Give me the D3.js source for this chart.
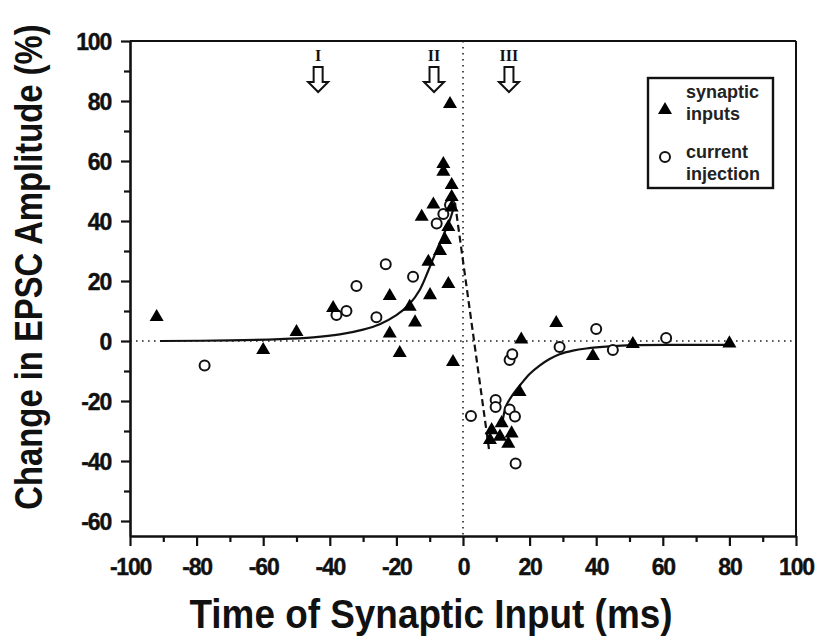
<!DOCTYPE html>
<html>
<head>
<meta charset="utf-8">
<script src="https://cdn.jsdelivr.net/npm/d3@7"></script>
<style>
  body { margin: 0; background: #fff; }
  svg { display: block; }
</style>
</head>
<body>
<div id="graph"></div>
<script>
// data
const xTicks = [-100, -80, -60, -40, -20, 0, 20, 40, 60, 80, 100];
const yTicks = [-60, -40, -20, 0, 20, 40, 60, 80, 100];

const synaptic = [
  [-92, 8], [-60, -3], [-50, 3], [-39, 11], [-22, 15], [-22, 2.5], [-19, -4],
  [-16, 11.4], [-14.4, 6.2], [-12.4, 41.4], [-10.4, 26.4], [-9.9, 15.3],
  [-8.9, 45.5], [-6.9, 30], [-5.4, 33.7], [-5.9, 59], [-5.9, 56.4], [-4.4, 19],
  [-4.4, 38], [-3.4, 52], [-3.4, 48], [-3.4, 44.5], [-3.9, 79], [-3, -7],
  [17.5, 0.5], [28, 6], [17, -17], [39, -5], [51, -1], [80, -0.8],
  [8.6, -29.7], [8.1, -33], [11.1, -31.9], [14.6, -30.8], [13.6, -34.2], [11.6, -27.4]
];

const injection = [
  [-77.6, -8.2], [-38, 8.7], [-35, 10], [-32, 18.3], [-26, 7.9], [-23.2, 25.6],
  [-15, 21.4], [-7.9, 39.2], [-5.9, 42.3], [-3.9, 45.3], [2.4, -25], [9.8, -19.7],
  [9.8, -22], [14, -6.3], [14.8, -4.4], [14, -22.8], [15.6, -25.2], [15.8, -40.8],
  [29, -2], [40, 4], [45, -3], [61, 1]
];

const fitLeft = [
  [-91, 0], [-70, 0.2], [-55, 0.6], [-45, 1.2], [-37, 2.2], [-30, 3.8], [-25, 5.6],
  [-20, 8.6], [-16, 12.4], [-13, 17], [-10.4, 23.5], [-7.9, 30.3], [-5.9, 35.3],
  [-3.9, 40.5], [-2.4, 46]
];
const fitJump = [[-2.4, 46], [7.8, -36]];
const fitRight = [
  [12, -26], [13, -21.5], [15, -17.8], [17.3, -14.5], [20, -11], [23, -8.2], [26, -6],
  [29, -4.4], [33, -3.2], [37, -2.5], [44, -1.8], [51, -1.4], [65, -1.3], [81, -1.3]
];

const arrowLabels = ["I", "II", "III"];
const arrowTimes = [-43.5, -8.7, 13.8];

const W = 825, H = 637;
const svg = d3.select("#graph").append("svg")
  .attr("width", W).attr("height", H)
  .style("font-family", "'Liberation Sans', Arial, sans-serif");

const x = d3.scaleLinear().domain([-100, 100]).range([130, 796]);
const y = d3.scaleLinear().domain([-65, 100]).range([536, 41]);

// dotted zero lines
svg.append("line")
  .attr("x1", x(-100)).attr("x2", x(100)).attr("y1", y(0)).attr("y2", y(0))
  .attr("stroke", "#222").attr("stroke-width", 1.6).attr("stroke-dasharray", "1.6,4.4");
svg.append("line")
  .attr("x1", x(0)).attr("x2", x(0)).attr("y1", y(100)).attr("y2", y(-65))
  .attr("stroke", "#222").attr("stroke-width", 1.6).attr("stroke-dasharray", "1.6,4.4");

// frame top / right
svg.append("line").attr("x1", x(-100)).attr("x2", x(100)).attr("y1", y(100)).attr("y2", y(100))
  .attr("stroke", "#111").attr("stroke-width", 2);
svg.append("line").attr("x1", x(100)).attr("x2", x(100)).attr("y1", y(100)).attr("y2", y(-65))
  .attr("stroke", "#111").attr("stroke-width", 2);

// minor ticks
const xMinor = d3.range(-90, 100, 20);
const yMinor = d3.range(-50, 100, 20);

const xAxis = svg.append("g")
  .attr("transform", "translate(0," + y(-65) + ")")
  .call(d3.axisBottom(x).tickValues(xTicks).tickSize(10).tickPadding(13)
    .tickSizeOuter(0).tickFormat(d => String(d)));
svg.append("g")
  .attr("transform", "translate(0," + y(-65) + ")")
  .call(d3.axisBottom(x).tickValues(xMinor).tickSize(6).tickFormat("").tickSizeOuter(0))
  .select(".domain").remove();

const yAxis = svg.append("g")
  .attr("transform", "translate(" + x(-100) + ",0)")
  .call(d3.axisLeft(y).tickValues(yTicks).tickSize(9).tickPadding(10)
    .tickSizeOuter(0).tickFormat(d => String(d)));
svg.append("g")
  .attr("transform", "translate(" + x(-100) + ",0)")
  .call(d3.axisLeft(y).tickValues(yMinor).tickSize(6).tickFormat("").tickSizeOuter(0))
  .select(".domain").remove();

svg.selectAll(".domain").attr("stroke", "#111").attr("stroke-width", 2.6);
svg.selectAll(".tick line").attr("stroke", "#111").attr("stroke-width", 2.2);
svg.selectAll(".tick text")
  .attr("fill", "#111")
  .attr("stroke", "#111").attr("stroke-width", 0.4)
  .style("font-size", "23px")
  .style("font-weight", "bold")
  .style("letter-spacing", "-1.2px")
  .style("font-family", "'Liberation Sans', Arial, sans-serif");
yAxis.selectAll(".tick text").attr("dy", "0.36em");

// axis titles
svg.append("text")
  .attr("x", 431).attr("y", 628)
  .attr("text-anchor", "middle")
  .attr("textLength", 483).attr("lengthAdjust", "spacingAndGlyphs")
  .style("font-size", "40px").style("font-weight", "bold").attr("fill", "#111")
  .text("Time of Synaptic Input (ms)");

// narrow-looking title: natural width fits, stretched across the baseline
svg.append("text")
  .attr("transform", "translate(42,267) rotate(-90) scale(1,1.16)")
  .attr("text-anchor", "middle")
  .style("font-size", "32.8px").style("font-weight", "bold").attr("fill", "#111")
  .text("Change in EPSC Amplitude (%)");

// fitted curves
const line = d3.line().x(d => x(d[0])).y(d => y(d[1])).curve(d3.curveCatmullRom.alpha(0.5));
svg.append("path").datum(fitLeft).attr("d", line)
  .attr("fill", "none").attr("stroke", "#111").attr("stroke-width", 2.2);
svg.append("path").datum(fitRight).attr("d", line)
  .attr("fill", "none").attr("stroke", "#111").attr("stroke-width", 2.2);
svg.append("path").datum(fitJump).attr("d", d3.line().x(d => x(d[0])).y(d => y(d[1])))
  .attr("fill", "none").attr("stroke", "#111").attr("stroke-width", 2.2)
  .attr("stroke-dasharray", "7,4");

// points
svg.selectAll(".circ").data(injection).enter().append("circle")
  .attr("cx", d => x(d[0])).attr("cy", d => y(d[1])).attr("r", 5)
  .attr("fill", "#fff").attr("stroke", "#111").attr("stroke-width", 2);

const tri = d3.symbol().type(d3.symbolTriangle).size(85);
svg.selectAll(".tri").data(synaptic).enter().append("path")
  .attr("d", tri)
  .attr("transform", d => "translate(" + x(d[0]) + "," + y(d[1]) + ")")
  .attr("fill", "#000");

// hollow arrows with roman numerals
arrowTimes.forEach((t, i) => {
  const cx = x(t);
  const g = svg.append("g").attr("transform", "translate(" + cx + ",0)");
  g.append("text").attr("x", 0).attr("y", 61).attr("text-anchor", "middle")
    .style("font-family", "'Liberation Serif', 'DejaVu Serif', serif")
    .style("font-size", "16px").style("font-weight", "bold").attr("fill", "#111")
    .text(arrowLabels[i]);
  g.append("path")
    .attr("d", "M-4.5,67 L4.5,67 L4.5,82 L10,82 L0,92 L-10,82 L-4.5,82 Z")
    .attr("fill", "#fff").attr("stroke", "#111").attr("stroke-width", 2);
});

// legend
const leg = svg.append("g");
leg.append("rect").attr("x", 648).attr("y", 78).attr("width", 125).attr("height", 110)
  .attr("fill", "#fff").attr("stroke", "#111").attr("stroke-width", 2.4);
leg.append("path").attr("d", tri).attr("transform", "translate(665,110)").attr("fill", "#000");
leg.append("circle").attr("cx", 665).attr("cy", 157).attr("r", 5)
  .attr("fill", "#fff").attr("stroke", "#111").attr("stroke-width", 2);
const legText = [["synaptic", 98], ["inputs", 120], ["current", 158], ["injection", 180]];
legText.forEach(d => {
  leg.append("text").attr("x", 686).attr("y", d[1])
    .style("font-size", "18px").style("font-weight", "bold").attr("fill", "#222")
    .text(d[0]);
});
</script>
</body>
</html>
